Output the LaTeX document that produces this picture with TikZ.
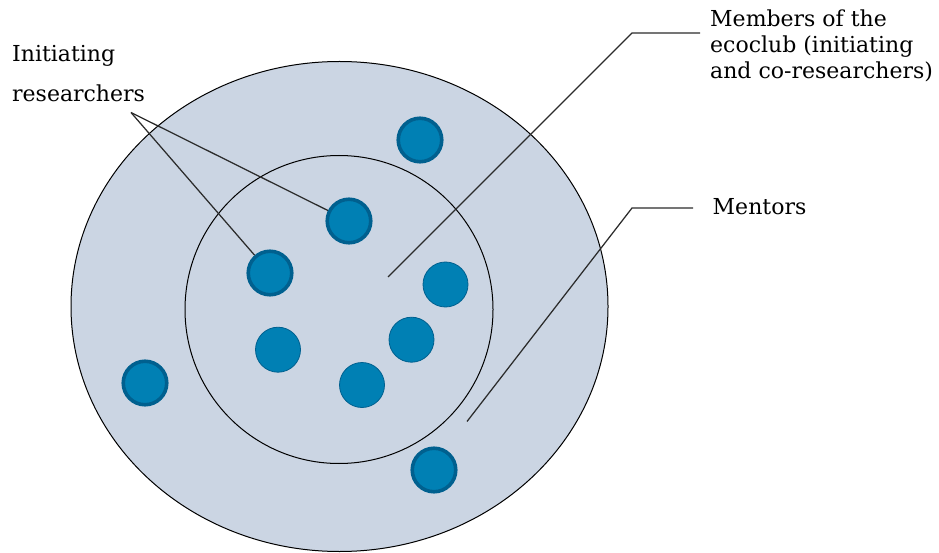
\documentclass[tikz,border=0pt]{standalone}
\usepackage{fontspec}
\setmainfont{DejaVu Serif}
\begin{document}
\begin{tikzpicture}[x=1pt,y=-1pt,
  every node/.style={inner sep=0pt},
  group/.style={draw=black, line width=1pt},
  member/.style={circle, minimum size=45pt, fill=memberfill},
  initiator/.style={member, draw=memberedge, line width=3.6pt, minimum size=43.5pt},
  coresearcher/.style={member, draw=memberedge, line width=0.8pt},
  label/.style={anchor=base west, font=\fontsize{22}{26}\selectfont, align=left},
  leader/.style={draw=leadercol, line width=1.25pt}]
\definecolor{groupfill}{HTML}{CBD5E3}
\definecolor{memberfill}{HTML}{0080B4}
\definecolor{memberedge}{HTML}{00608F}
\definecolor{leadercol}{HTML}{2B2B2B}
\useasboundingbox (0,0) rectangle (939,553);

% mentors' circle and the ecoclub inside it
\draw[group, fill=groupfill] (339.5,306.5) ellipse [x radius=268.5, y radius=245];
\draw[group] (339,309.5) circle [radius=154];

% members
\node[initiator] (m1) at (420,140) {};
\node[initiator] (m2) at (349,221) {};
\node[initiator] (m3) at (270,273) {};
\node[initiator] (m4) at (145,383) {};
\node[initiator] (m5) at (434,470) {};
\node[coresearcher] (m6) at (445.5,284.5) {};
\node[coresearcher] (m7) at (411.5,339.7) {};
\node[coresearcher] (m8) at (278,349.7) {};
\node[coresearcher] (m9) at (362,385) {};

% labels (a multi-line node sits on the baseline of its last line)
\node[label] (init) at (12,61.7) {Initiating};
\node[label] (initb) at (12,101.7) {researchers};
\node[label] (club) at (710,79) {Members of the\\ecoclub (initiating\\and co-researchers)};
\node[label] (ment) at (712.5,215) {Mentors};

% leader lines
\coordinate (ia) at (131,112.5);
\coordinate (ca) at (388,277);
\coordinate (cb) at (632,33);
\coordinate (cc) at (700,33);
\coordinate (ma) at (467,421.5);
\coordinate (mb) at (632,208);
\coordinate (mc) at (693,208);
\draw[leader] (ia) -- (m2);
\draw[leader] (ia) -- (m3);
\draw[leader] (ca) -- (cb) -- (cc);
\draw[leader] (ma) -- (mb) -- (mc);
\end{tikzpicture}
\end{document}
